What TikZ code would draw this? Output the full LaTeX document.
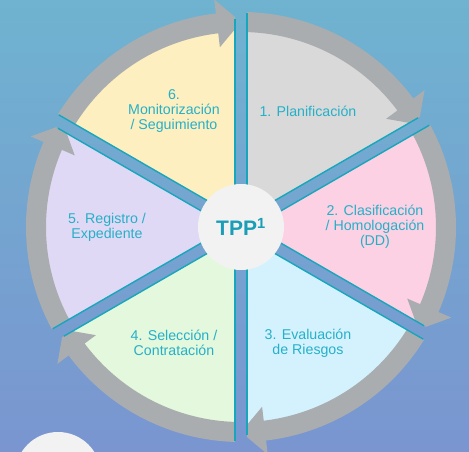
\documentclass[tikz,border=0pt]{standalone}
\usepackage{fontspec}
\setmainfont{Liberation Sans}
\usetikzlibrary{calc}
\definecolor{tppSkyTop}{HTML}{6FB3D0}
\definecolor{tppSkyBot}{HTML}{7A95D0}
\definecolor{tppRing}{HTML}{A9ADB0}
\definecolor{tppTeal}{HTML}{17A6BC}
\definecolor{tppText}{HTML}{26B0C8}
\definecolor{tppInk}{HTML}{1A9DB6}
\definecolor{tppHub}{HTML}{F2F2F2}
\definecolor{tppGrey}{HTML}{D9D9D9}
\definecolor{tppPink}{HTML}{FCD1E3}
\definecolor{tppCyan}{HTML}{D3F2FE}
\definecolor{tppGreen}{HTML}{E3F8DC}
\definecolor{tppLilac}{HTML}{E0D9F5}
\definecolor{tppCream}{HTML}{FEEFC0}
\tikzset{
  ring/.style={draw=tppRing,line width=20pt},
  head/.style={fill=tppRing},
  edge/.style={draw=tppTeal,line width=1.4pt},
  lbl/.style={text=tppText,align=center,inner sep=0pt,
              font=\fontsize{14.2}{15}\selectfont},
  hub/.style={circle,fill=tppHub,minimum size=86pt,inner sep=0pt,
              text=tppInk,font=\bfseries\fontsize{21}{21}\selectfont},
}

\begin{document}
\begin{tikzpicture}[x=1pt,y=1pt]
  \useasboundingbox (-241,-225) rectangle (228,227);
  \shade[top color=tppSkyTop,bottom color=tppSkyBot] (-241,-225) rectangle (228,227);
  \fill[tppHub] (-183,-248) circle (43);
  % one sector per step, arrow runs clockwise and ends at \a
  \foreach \a/\col/\n/\txt in {30/tppGrey/1/{1. Planificación},
      -30/tppPink/2/{2. Clasificación\\/ Homologación\\(DD)},
      -90/tppCyan/3/{3. Evaluación\\de Riesgos},
      -150/tppGreen/4/{4. Selección /\\Contratación},
      150/tppLilac/5/{5. Registro /\\Expediente},
      90/tppCream/6/{6.\\Monitorización\\/ Seguimiento}} {
    \begin{scope}
      \clip ($(\a+30:12)$) -- ($(\a:300)+(\a+90:6)$) -- (\a+30:400)
            -- ($(\a+60:300)+(\a-30:6)$) -- cycle;
      \fill[\col] (0,0) -- (\a:197) arc[start angle=\a,end angle=\a+60,radius=197] -- cycle;
      \draw[ring] (\a+62:205) arc[start angle=\a+62,end angle=\a+6,radius=205];
      \fill[head] (\a+6.7:181) -- (\a+6.7:229) -- (\a:205) -- cycle;
    \end{scope}
    \draw[edge] ($(\a:40)+(\a+90:6)$) -- ($(\a:208)+(\a+90:6)$);
    \draw[edge] ($(\a+60:40)+(\a-30:6)$) -- ($(\a+60:214)+(\a-30:6)$);
    \node[lbl] (step\n) at (\a+30:134) {\txt};
  }
  \node[hub] (tpp) at (0,0) {TPP\textsuperscript{1}};
\end{tikzpicture}
\end{document}
